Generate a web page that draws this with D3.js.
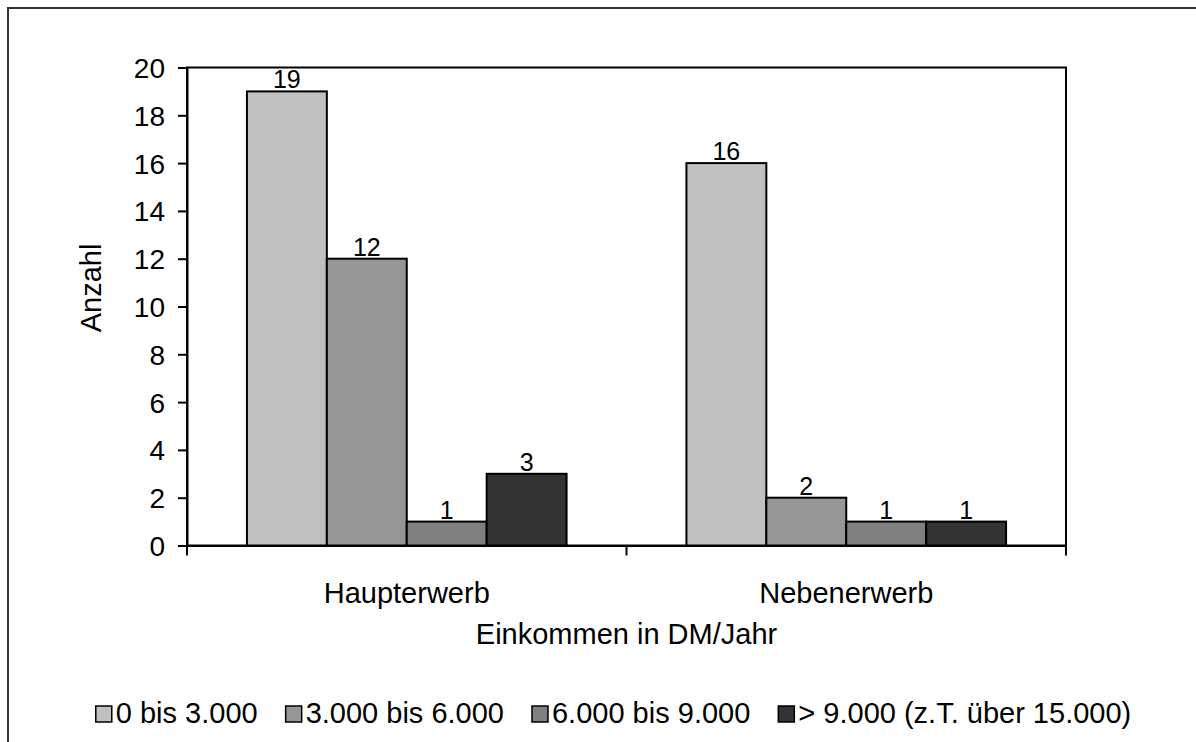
<!DOCTYPE html>
<html><head><meta charset="utf-8">
<script src="https://cdn.jsdelivr.net/npm/d3@7"></script>
<style>
html,body{margin:0;padding:0;background:#fff;}
svg text{font-family:"Liberation Sans",Arial,Helvetica,sans-serif;fill:#000;}
</style></head>
<body><svg id="c" width="1196" height="742"></svg>
<script>
const categories = ["Haupterwerb", "Nebenerwerb"];
const seriesNames = ["0 bis 3.000", "3.000 bis 6.000", "6.000 bis 9.000", "> 9.000 (z.T. über 15.000)"];
const seriesColors = ["#c0c0c0", "#969696", "#808080", "#333333"];
const values0to3 = [19, 16];
const values3to6 = [12, 2];
const values6to9 = [1, 1];
const valuesOver9 = [3, 1];
const yTicks = [0, 2, 4, 6, 8, 10, 12, 14, 16, 18, 20];
const yTitle = "Anzahl";
const xTitle = "Einkommen in DM/Jahr";

const seriesValues = [values0to3, values3to6, values6to9, valuesOver9];

const svg = d3.select("#c");
const L = 187, R = 1066, T = 67.5, B = 545.5;

// outer frame
svg.append("rect").attr("x", 8).attr("y", 8).attr("width", 1300).attr("height", 900)
  .attr("fill", "none").attr("stroke", "#333").attr("stroke-width", 2);

const x0 = d3.scaleBand().domain(categories).range([L, R]).paddingInner(0).paddingOuter(0);
const x1 = d3.scaleBand().domain(d3.range(seriesNames.length)).range([0, x0.bandwidth()]).paddingInner(0).paddingOuter(0.75);
const y = d3.scaleLinear().domain([0, 20]).range([B, T]);

// plot area border
svg.append("rect").attr("x", L).attr("y", T).attr("width", R - L).attr("height", B - T)
  .attr("fill", "#fff").attr("stroke", "#000").attr("stroke-width", 2);

// bars
const g = svg.append("g");
categories.forEach((cat, ci) => {
  seriesValues.forEach((vals, si) => {
    const v = vals[ci];
    g.append("rect")
      .attr("x", x0(cat) + x1(si)).attr("y", y(v))
      .attr("width", x1.bandwidth()).attr("height", y(0) - y(v))
      .attr("fill", seriesColors[si]).attr("stroke", "#000").attr("stroke-width", 2);
    g.append("text")
      .attr("x", x0(cat) + x1(si) + x1.bandwidth() / 2).attr("y", y(v) - 3)
      .attr("text-anchor", "middle").attr("font-size", 25).text(v);
  });
});

// y axis
const yAxis = d3.axisLeft(y).tickValues(yTicks).tickSize(9).tickPadding(13).tickFormat(d3.format("d"));
const ya = svg.append("g").attr("transform", `translate(${L},0)`).call(yAxis);
ya.selectAll("path").attr("stroke", "#000").attr("stroke-width", 2);
ya.selectAll("line").attr("stroke", "#000").attr("stroke-width", 2);
ya.selectAll("text").attr("font-size", 28).attr("dy", "0.36em").style("font-family", '"Liberation Sans",Arial,sans-serif');

// x axis
const xAxis = d3.axisBottom(x0).tickSize(0).tickPadding(37);
const xa = svg.append("g").attr("transform", `translate(0,${B})`).call(xAxis);
xa.selectAll("path").attr("stroke", "#000").attr("stroke-width", 2);
xa.selectAll("text").attr("font-size", 29).style("font-family", '"Liberation Sans",Arial,sans-serif');
// category separator ticks
const bounds = [x0(categories[0])].concat(categories.map(c => x0(c) + x0.bandwidth()));
svg.append("g").selectAll("line").data(bounds).join("line")
  .attr("x1", d => d).attr("x2", d => d).attr("y1", B).attr("y2", B + 10)
  .attr("stroke", "#000").attr("stroke-width", 2);

// titles
svg.append("text").attr("transform", `translate(101,288) rotate(-90)`)
  .attr("text-anchor", "middle").attr("font-size", 29).text(yTitle);
svg.append("text").attr("x", (L + R) / 2).attr("y", 644)
  .attr("text-anchor", "middle").attr("font-size", 29).text(xTitle);

// legend
const leg = svg.append("g");
const sq = 16, gapSqText = 4, gapItem = 28;
let cx = 0;
seriesNames.forEach((name, i) => {
  const it = leg.append("g");
  it.append("rect").attr("x", 0).attr("y", -sq / 2 - 9).attr("width", sq).attr("height", sq)
    .attr("fill", seriesColors[i]).attr("stroke", "#000").attr("stroke-width", 1.5);
  const t = it.append("text").attr("x", sq + gapSqText).attr("y", 0).attr("font-size", 29).text(name);
  const w = sq + gapSqText + t.node().getComputedTextLength();
  it.attr("transform", `translate(${cx},0)`);
  cx += w + gapItem;
});
const total = cx - gapItem;
leg.attr("transform", `translate(${613.5 - total / 2},723)`);
</script></body></html>
